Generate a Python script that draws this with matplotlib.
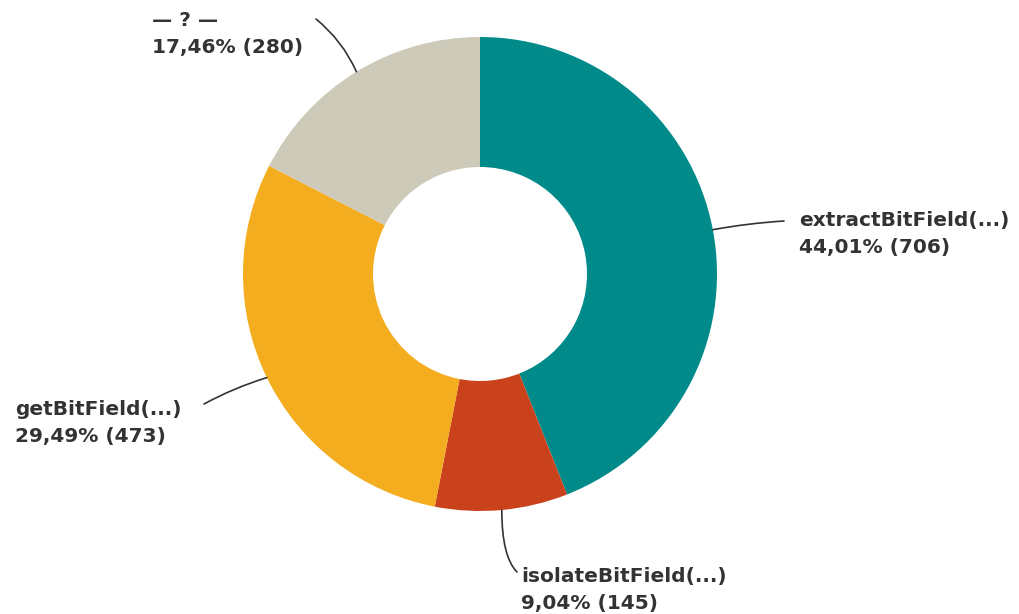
import numpy as np
import matplotlib.pyplot as plt

# data
names = ['extractBitField(...)', 'isolateBitField(...)', 'getBitField(...)', '\u2014 ? \u2014']
counts = [706, 145, 473, 280]
percents = ['44,01%', '9,04%', '29,49%', '17,46%']
colors = ['#008a8a', '#c9421b', '#f4ad1e', '#cdcaba']

# layout (pixel units, y up)
cx, cy = 480, 340
r_out, r_in = 237, 107
label_pos = [(799, 380), (521, 24), (15, 191), (152, 580)]
line_end = [(784, 393), (517, 42), (204, 210), (316, 595)]
conn = ['arc3,rad=0.03', 'angle3,angleA=-45,angleB=90',
        'arc3,rad=-0.05', 'arc3,rad=-0.12']

fig = plt.figure(figsize=(10.2, 6.14), dpi=100)
ax = fig.add_axes([0, 0, 1, 1])
ax.axis('off')

wedges, _ = ax.pie(counts, colors=colors, startangle=90, counterclock=False,
                   center=(cx, cy), radius=r_out,
                   wedgeprops=dict(width=r_out - r_in, linewidth=0))
ax.set_xlim(0, 1020)
ax.set_ylim(0, 614)

for w, name, pct, n, pos, end, cs in zip(wedges, names, percents, counts,
                                         label_pos, line_end, conn):
    ang = np.deg2rad((w.theta1 + w.theta2) / 2)
    start = (cx + r_out * np.cos(ang), cy + r_out * np.sin(ang))
    ax.annotate('', xy=start, xytext=end,
                arrowprops=dict(arrowstyle='-', color='#333333', lw=1.2,
                                shrinkA=0, shrinkB=0, connectionstyle=cs))
    ax.text(pos[0], pos[1], '%s\n%s (%d)' % (name, pct, n), ha='left', va='center',
            fontsize=14.5, fontweight='bold', color='#333333', linespacing=1.5,
            family='DejaVu Sans')

fig.savefig('out.png', dpi=100)
